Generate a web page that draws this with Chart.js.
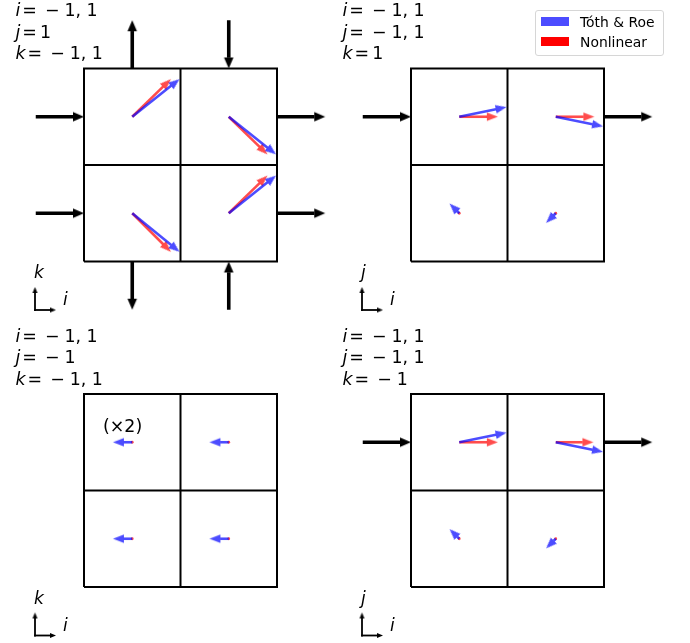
<!DOCTYPE html>
<html>
<head>
<meta charset="utf-8">
<script src="https://cdn.jsdelivr.net/npm/chart.js"></script>
<style>
  html, body { margin: 0; padding: 0; background: #fff; }
  #wrap { position: relative; width: 690px; height: 643px; overflow: hidden; }
  #fig { position: absolute; left: 0; top: 0; }
  .lbl { position: absolute; font-family: "DejaVu Sans"; font-size: 17.4px; line-height: 21.5px; color: #000; white-space: pre; }
  .lbl i { font-style: italic; }
  .rel { margin-left: 2px; }
  .bin { margin-left: 8px; }
  .num { margin-left: 5px; }
  .num0 { margin-left: 3px; }
  .ax { position: absolute; font-family: "DejaVu Sans"; font-style: italic; font-size: 17px; line-height: 17px; }
  #legend { position: absolute; left: 535px; top: 10px; width: 127px; height: 44px; border: 1px solid #d6d6d6; border-radius: 3px; background: #fff;
            font-family: "DejaVu Sans"; font-size: 13.9px; }
  #legend .row { position: absolute; left: 0; height: 16px; line-height: 16px; white-space: pre; }
  #legend .patch { position: absolute; left: 5px; top: 3px; width: 28px; height: 9px; }
  #legend .txt { position: absolute; left: 44px; top: 0; }
</style>
</head>
<body>
<div id="wrap">
  <canvas id="fig" width="690" height="643"></canvas>
</div>
<script>
// face velocities per cell (TL, TR, BL, BR), in cell widths, y up
const tothRoeA   = [[0.49, 0.39], [0.49, -0.39], [0.49, -0.40], [0.49, 0.39]];
const nonlinearA = [[0.40, 0.39], [0.40, -0.39], [0.40, -0.40], [0.40, 0.39]];
const tothRoeB   = [[0.49, 0.10], [0.49, -0.10], [-0.10, 0.10], [-0.10, -0.10]];
const nonlinearB = [[0.40, 0], [0.40, 0], [0, 0], [0, 0]];
const tothRoeC   = [[-0.20, 0], [-0.20, 0], [-0.20, 0], [-0.20, 0]];   // shown x2
const nonlinearC = [[0, 0], [0, 0], [0, 0], [0, 0]];
const tothRoeD   = [[0.49, 0.10], [0.49, -0.10], [-0.10, 0.10], [-0.10, -0.10]];
const nonlinearD = [[0.40, 0], [0.39, 0], [0, 0], [0, 0]];

// boundary fluxes: x, y, dx, dy (cell widths from block centre)
const fluxA = [[-1.5, 0.5, 0.5, 0], [-1.5, -0.5, 0.5, 0], [1, 0.5, 0.5, 0], [1, -0.5, 0.5, 0],
               [-0.5, 1, 0, 0.5], [0.5, 1.5, 0, -0.5], [-0.5, -1, 0, -0.5], [0.5, -1.5, 0, 0.5]];
const fluxB = [[-1.5, 0.5, 0.5, 0], [1, 0.5, 0.5, 0]];
const fluxC = [];
const fluxD = [[-1.5, 0.5, 0.5, 0], [1, 0.5, 0.5, 0]];

const labelsA = [['i', '−1, 1'], ['j', '1'], ['k', '−1, 1']];
const labelsB = [['i', '−1, 1'], ['j', '−1, 1'], ['k', '1']];
const labelsC = [['i', '−1, 1'], ['j', '−1'], ['k', '−1, 1']];
const labelsD = [['i', '−1, 1'], ['j', '−1, 1'], ['k', '−1']];

const seriesNames = ['Tóth & Roe', 'Nonlinear'];

// layout
const CELL = 96.5;
const cellCentres = [[-0.5, 0.5], [0.5, 0.5], [-0.5, -0.5], [0.5, -0.5]];
const panels = [
  {cx: 180.5, cy: 165,   blue: tothRoeA, red: nonlinearA, flux: fluxA, labels: labelsA, up: 'k'},
  {cx: 507.5, cy: 165,   blue: tothRoeB, red: nonlinearB, flux: fluxB, labels: labelsB, up: 'j'},
  {cx: 180.5, cy: 490.5, blue: tothRoeC, red: nonlinearC, flux: fluxC, labels: labelsC, up: 'k'},
  {cx: 507.5, cy: 490.5, blue: tothRoeD, red: nonlinearD, flux: fluxD, labels: labelsD, up: 'j'}
];

const blueStyle  = {color: 'rgba(0,0,255,0.7)', w: 2.6, L: 11, W: 8.5, dot: 1.4};
const redStyle   = {color: 'rgba(255,0,0,0.7)', w: 2.6, L: 11, W: 8.5, dot: 1.4};
const blackStyle = {color: '#000', w: 3.6, L: 11, W: 9.5, dot: 1};
const axStyle    = {color: '#000', w: 1.8, L: 6, W: 5, dot: 1};

const datasets = [];
const heads = {};

function headImage(color, L, W) {
  const key = color + '|' + L + '|' + W;
  if (heads[key]) return heads[key];
  const c = document.createElement('canvas');
  c.width = Math.ceil(2 * L + 4);
  c.height = Math.ceil(W + 4);
  const g = c.getContext('2d');
  const mx = c.width / 2, my = c.height / 2;
  g.fillStyle = color;
  g.beginPath();
  g.moveTo(mx, my);
  g.lineTo(mx - L, my - W / 2);
  g.lineTo(mx - L, my + W / 2);
  g.closePath();
  g.fill();
  heads[key] = c;
  return c;
}

function addArrow(x0, y0, x1, y1, st, order, cap) {
  const dx = x1 - x0, dy = y1 - y0, len = Math.hypot(dx, dy);
  if (len < 0.5) {
    datasets.push({data: [{x: x0, y: y0}], showLine: false, pointRadius: st.dot,
      pointBackgroundColor: st.color, pointBorderWidth: 0, order});
    return;
  }
  const k = Math.min(1, len / (st.L * 1.15));
  const L = st.L * k, W = st.W * k;
  const ux = dx / len, uy = dy / len;
  datasets.push({
    data: [{x: x0, y: y0}, {x: x1 - ux * (L - 0.2), y: y1 - uy * (L - 0.2)}],
    borderColor: st.color, borderWidth: st.w * Math.max(k, 0.7), pointRadius: 0,
    borderCapStyle: cap || 'butt', order
  });
  datasets.push({
    data: [{x: x1, y: y1}], showLine: false, pointStyle: headImage(st.color, L, W),
    pointRotation: Math.atan2(dy, dx) * 180 / Math.PI, pointRadius: 4, order
  });
}

const wrap = document.getElementById('wrap');

function addDiv(cls, left, top, html) {
  const d = document.createElement('div');
  d.className = cls;
  d.style.left = left + 'px';
  d.style.top = top + 'px';
  d.innerHTML = html;
  wrap.appendChild(d);
  return d;
}

function mathLine(v, val) {
  let s = '<i>' + v + '</i><span class="rel">=</span>';
  if (val[0] === '−') s += '<span class="bin">−</span><span class="num">' + val.slice(1) + '</span>';
  else s += '<span class="num0">' + val + '</span>';
  return s;
}

panels.forEach(p => {
  const X = v => p.cx + v * CELL;
  const Y = v => p.cy - v * CELL;
  // grid
  datasets.push({data: [[-1, -1], [1, -1], [1, 1], [-1, 1], [-1, -1]].map(q => ({x: X(q[0]), y: Y(q[1])})),
    borderColor: '#000', borderWidth: 2, pointRadius: 0, borderJoinStyle: 'miter', order: 6});
  datasets.push({data: [{x: X(0), y: Y(-1)}, {x: X(0), y: Y(1)}], borderColor: '#000', borderWidth: 2, pointRadius: 0, order: 6});
  datasets.push({data: [{x: X(-1), y: Y(0)}, {x: X(1), y: Y(0)}], borderColor: '#000', borderWidth: 2, pointRadius: 0, order: 6});
  // cell vectors
  cellCentres.forEach((c, n) => {
    const r = p.red[n], b = p.blue[n];
    addArrow(X(c[0]), Y(c[1]), X(c[0] + r[0]), Y(c[1] + r[1]), redStyle, 2);
    addArrow(X(c[0]), Y(c[1]), X(c[0] + b[0]), Y(c[1] + b[1]), blueStyle, 1);
  });
  // boundary fluxes
  p.flux.forEach(f => addArrow(X(f[0]), Y(f[1]), X(f[0] + f[2]), Y(f[1] + f[3]), blackStyle, 3));
  // axis key
  const ox = p.cx - 145.5, oy = p.cy + 145;
  addArrow(ox, oy, ox, oy - 23, axStyle, 3, 'square');
  addArrow(ox, oy, ox + 21, oy, axStyle, 3, 'square');
  addDiv('ax', ox - 1, oy - 46, p.up);
  addDiv('ax', ox + 28, oy - 19, 'i');
  // labels
  addDiv('lbl', p.cx - 165, p.cy - 165, p.labels.map(l => mathLine(l[0], l[1])).join('<br>'));
});

addDiv('lbl', panels[2].cx - 77.5, panels[2].cy - 74.5, '(×2)');

// legend
const lg = document.createElement('div');
lg.id = 'legend';
lg.innerHTML =
  '<div class="row" style="top:3px;width:127px"><div class="patch" style="background:rgba(0,0,255,0.7)"></div><div class="txt">' + seriesNames[0] + '</div></div>' +
  '<div class="row" style="top:23px;width:127px"><div class="patch" style="background:#ff0000"></div><div class="txt">' + seriesNames[1] + '</div></div>';
wrap.appendChild(lg);

new Chart(document.getElementById('fig'), {
  type: 'line',
  data: {datasets: datasets.map(d => Object.assign({tension: 0, fill: false, clip: false}, d))},
  options: {
    responsive: false,
    animation: false,
    events: [],
    layout: {padding: 0, autoPadding: false},
    plugins: {legend: {display: false}, tooltip: {enabled: false}},
    scales: {
      x: {type: 'linear', min: 0, max: 690, display: false},
      y: {type: 'linear', min: 0, max: 643, reverse: true, display: false}
    }
  }
});
</script>
</body>
</html>
